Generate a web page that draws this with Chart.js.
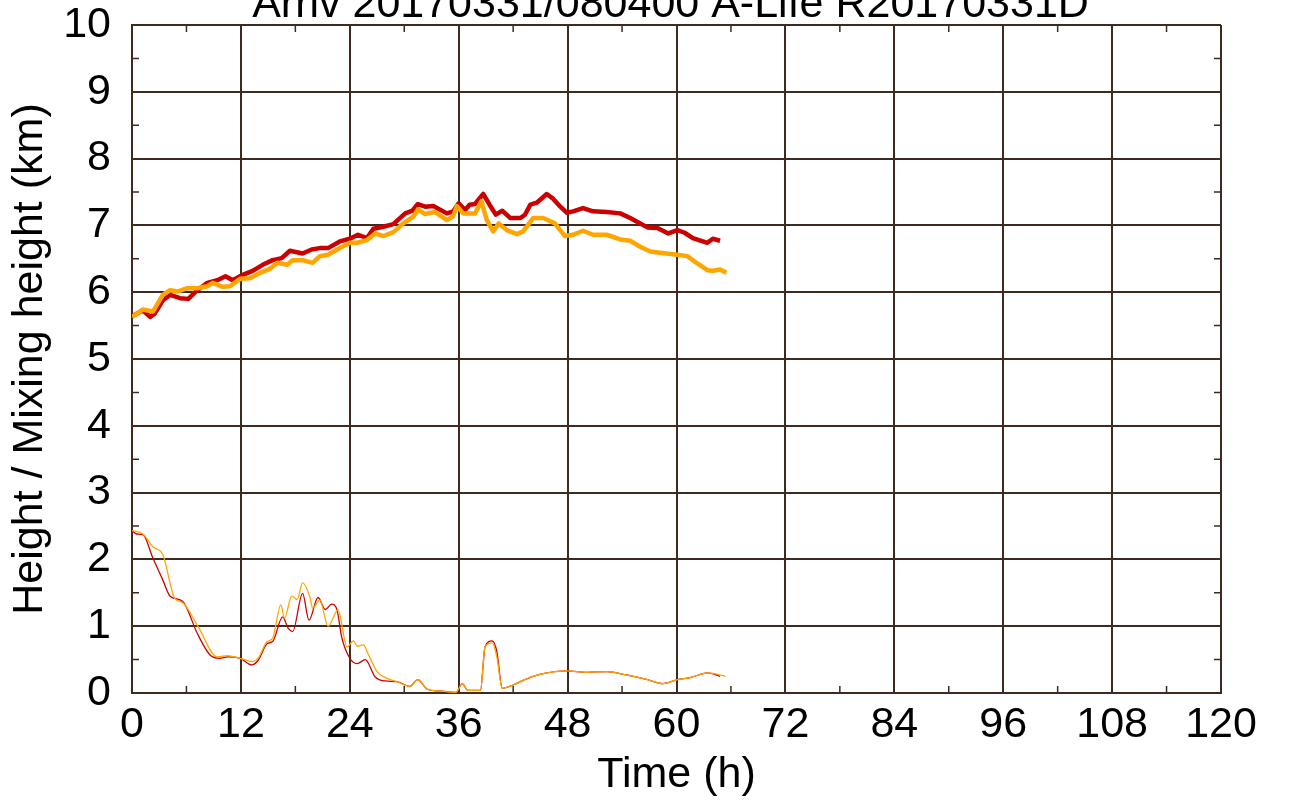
<!DOCTYPE html>
<html>
<head>
<meta charset="utf-8">
<script src="https://cdn.jsdelivr.net/npm/chart.js@4/dist/chart.umd.min.js"></script>
<style>
  html, body { margin: 0; padding: 0; background: #fff; }
  #wrap { width: 1290px; height: 803px; }
</style>
</head>
<body>
<div id="wrap"><canvas id="c" width="1290" height="803"></canvas></div>
<script>
const titleText = 'Arriv 20170331/080400 A-Life R20170331D';
const xTitle = 'Time (h)';
const yTitle = 'Height / Mixing height (km)';

// Trajectory height (km) - red
const redTopT = [0,1.2,2.0,2.5,3.4,4.2,5.3,6.2,7.2,8.3,9.4,10.3,11.1,12.2,13.3,14.4,15.5,16.5,17.4,18.8,19.8,20.7,21.6,22.9,24.0,24.9,25.9,26.6,27.7,28.8,30.1,30.9,31.5,32.3,33.2,34.7,35.4,36.0,36.7,37.2,37.8,38.7,39.4,40.1,40.8,41.7,42.8,43.3,43.9,44.6,45.7,46.4,47.2,47.9,48.6,49.7,50.8,52.3,53.8,54.9,56.0,56.8,57.9,59.1,60.1,60.9,61.8,63.4,64.0,64.8];
const redTopH = [5.64,5.73,5.63,5.68,5.88,5.96,5.91,5.90,6.03,6.14,6.18,6.24,6.18,6.26,6.32,6.41,6.48,6.51,6.62,6.58,6.64,6.66,6.66,6.76,6.80,6.86,6.81,6.95,6.98,7.02,7.18,7.22,7.32,7.28,7.29,7.18,7.21,7.33,7.23,7.31,7.32,7.47,7.31,7.16,7.22,7.11,7.11,7.16,7.31,7.34,7.47,7.40,7.28,7.19,7.21,7.26,7.21,7.20,7.18,7.11,7.03,6.97,6.96,6.88,6.93,6.89,6.81,6.74,6.80,6.77];

// Trajectory height (km) - orange
const orangeTopT = [0,1.2,2.3,3.4,4.2,5.0,6.1,7.2,8.3,8.9,10.0,10.8,11.9,13.0,14.1,15.2,16.0,17.1,17.7,18.8,19.9,20.7,21.6,22.6,24.0,24.8,25.9,26.8,27.7,28.8,29.9,31.0,31.5,32.3,33.4,34.7,35.4,35.8,36.5,37.8,38.5,39.1,39.8,40.4,41.3,42.4,43.1,44.2,45.3,45.8,46.6,47.7,48.6,49.7,50.8,52.3,53.8,54.9,56.0,57.1,58.2,60.1,61.2,62.3,63.4,64.0,64.8,65.5];
const orangeTopH = [5.63,5.74,5.71,5.96,6.03,6.01,6.06,6.06,6.09,6.14,6.08,6.09,6.20,6.21,6.29,6.35,6.44,6.41,6.48,6.48,6.44,6.54,6.56,6.64,6.74,6.74,6.78,6.88,6.84,6.90,7.03,7.13,7.24,7.17,7.20,7.08,7.14,7.29,7.18,7.18,7.36,7.08,6.91,7.03,6.93,6.87,6.91,7.11,7.11,7.08,7.03,6.84,6.86,6.92,6.86,6.86,6.79,6.77,6.68,6.61,6.59,6.56,6.54,6.43,6.33,6.32,6.34,6.29];

// Mixing height (km) - red
const redLowT = [0,0.5,1.2,2.3,3.4,4.2,5.6,7.2,8.6,9.7,10.5,11.9,13.2,13.9,14.9,15.5,16.6,17.2,17.7,18.8,19.5,20.5,21.3,22.0,22.6,23.1,24.0,24.8,25.7,26.8,27.9,29.2,30.6,31.5,32.5,33.9,35.7,36.4,37.0,38.4,38.9,39.7,40.2,40.8,42.0,43.1,44.2,45.7,47.9,50.1,52.3,54.5,56.8,58.5,60.1,61.5,63.4,64.8];
const redLowH = [2.43,2.38,2.37,2.02,1.69,1.45,1.37,0.89,0.57,0.52,0.54,0.52,0.42,0.49,0.74,0.77,1.14,0.97,0.92,1.49,1.09,1.43,1.25,1.33,1.24,0.84,0.52,0.44,0.50,0.24,0.18,0.17,0.10,0.20,0.06,0.03,0.01,0.14,0.04,0.04,0.69,0.78,0.62,0.07,0.12,0.19,0.25,0.30,0.33,0.31,0.32,0.27,0.20,0.14,0.20,0.23,0.30,0.25];

// Mixing height (km) - orange
const orangeLowT = [0,1.2,2.3,3.4,4.7,5.6,7.3,9.4,10.5,11.9,13.3,13.9,14.9,15.5,16.4,16.8,17.6,18.2,18.8,19.6,19.9,20.7,21.6,22.7,23.7,24.4,24.8,25.5,26.0,27.0,28.1,29.2,30.6,31.5,32.5,33.9,35.7,36.4,37.0,38.4,38.9,39.7,40.2,40.8,42.0,43.1,44.2,45.7,47.9,50.1,52.3,54.5,56.8,58.5,60.1,61.5,63.4,65.4];
const orangeLowH = [2.43,2.38,2.19,2.07,1.42,1.35,0.99,0.54,0.56,0.52,0.47,0.52,0.77,0.82,1.32,1.12,1.45,1.40,1.65,1.44,1.27,1.39,1.00,1.24,0.69,0.78,0.70,0.72,0.59,0.32,0.22,0.17,0.10,0.20,0.06,0.03,0.01,0.14,0.04,0.04,0.69,0.75,0.54,0.07,0.12,0.19,0.25,0.30,0.33,0.31,0.32,0.27,0.20,0.14,0.20,0.23,0.30,0.25];

const RED = '#cc0000';
const ORANGE = '#ffa500';
const GRID = '#3f2a20';
const FONT = 'Liberation Sans, Arial, sans-serif';

const pts = (t, h) => t.map((v, i) => ({x: v, y: h[i]}));

const topTitle = {
  id: 'topTitle',
  afterDraw(chart) {
    const {ctx, chartArea: a} = chart;
    ctx.save();
    ctx.fillStyle = '#000';
    ctx.font = '43px ' + FONT;
    ctx.textAlign = 'center';
    ctx.textBaseline = 'alphabetic';
    ctx.fillText(titleText, (a.left + a.right) / 2 - 6, a.top - 8);
    ctx.restore();
  }
};

const minorTicks = {
  id: 'minorTicks',
  afterDraw(chart) {
    const {ctx, chartArea: a, scales: {x, y}} = chart;
    ctx.save();
    ctx.strokeStyle = GRID;
    ctx.lineWidth = 1.5;
    ctx.beginPath();
    for (let v = 6; v < 120; v += 12) {
      const px = x.getPixelForValue(v);
      ctx.moveTo(px, a.bottom); ctx.lineTo(px, a.bottom - 7);
      ctx.moveTo(px, a.top); ctx.lineTo(px, a.top + 7);
    }
    for (let v = 0.5; v < 10; v += 1) {
      const py = y.getPixelForValue(v);
      ctx.moveTo(a.left, py); ctx.lineTo(a.left + 7, py);
      ctx.moveTo(a.right, py); ctx.lineTo(a.right - 7, py);
    }
    ctx.stroke();
    ctx.restore();
  }
};

new Chart(document.getElementById('c'), {
  type: 'line',
  data: {
    datasets: [
      {data: pts(orangeTopT, orangeTopH), borderColor: ORANGE, borderWidth: 4.5, pointRadius: 0, tension: 0, borderJoinStyle: 'round', order: 1},
      {data: pts(redTopT, redTopH), borderColor: RED, borderWidth: 4.5, pointRadius: 0, tension: 0, borderJoinStyle: 'round', order: 2},
      {data: pts(orangeLowT, orangeLowH), borderColor: ORANGE, borderWidth: 1.3, pointRadius: 0, cubicInterpolationMode: 'monotone', order: 1},
      {data: pts(redLowT, redLowH), borderColor: RED, borderWidth: 1.3, pointRadius: 0, cubicInterpolationMode: 'monotone', order: 2}
    ]
  },
  options: {
    responsive: false,
    animation: false,
    devicePixelRatio: 1,
    layout: {padding: {left: 0, right: 69, top: 25, bottom: 0}},
    plugins: {
      legend: {display: false},
      tooltip: {enabled: false},
      title: {display: false}
    },
    scales: {
      x: {
        type: 'linear',
        min: 0, max: 120,
        afterFit: s => { s.height = 110; s.paddingLeft = 0; s.paddingRight = 0; },
        ticks: {stepSize: 12, color: '#000', padding: 11, maxRotation: 0, autoSkip: false,
                font: {family: FONT, size: 43, lineHeight: 1}},
        grid: {color: GRID, lineWidth: 2, drawTicks: false},
        border: {display: true, color: GRID, width: 2},
        title: {display: true, text: xTitle, color: '#000', padding: {top: 0, bottom: 2},
                font: {family: FONT, size: 43, lineHeight: 1.2}}
      },
      y: {
        type: 'linear',
        min: 0, max: 10,
        afterFit: s => { s.width = 132; s.paddingTop = 0; s.paddingBottom = 0; },
        ticks: {stepSize: 1, color: '#000', padding: 21,
                font: {family: FONT, size: 43, lineHeight: 1}},
        grid: {color: GRID, lineWidth: 2, drawTicks: false},
        border: {display: true, color: GRID, width: 2},
        title: {display: true, text: yTitle, color: '#000', padding: {top: 4, bottom: 0},
                font: {family: FONT, size: 43, lineHeight: 1.2}}
      }
    }
  },
  plugins: [minorTicks, topTitle]
});
</script>
</body>
</html>
